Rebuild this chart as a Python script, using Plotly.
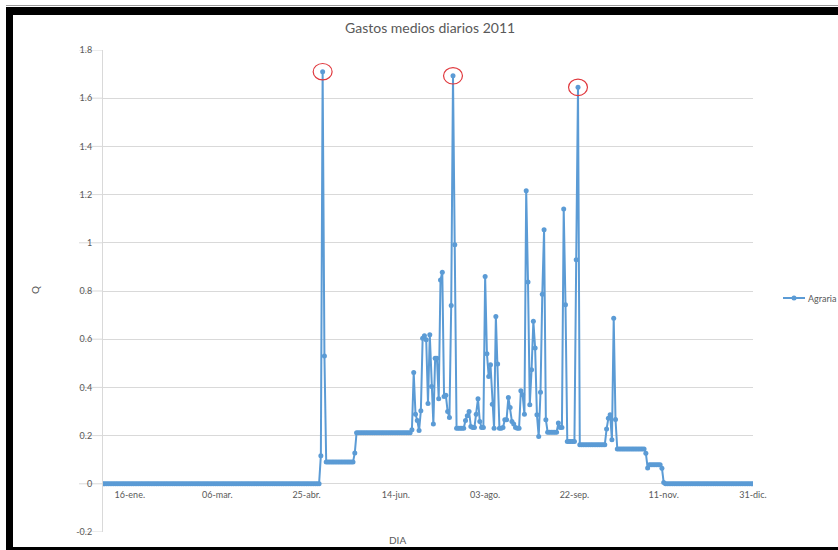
import pandas as pd
import plotly.graph_objects as go

# Daily mean flow (Q) for 2011, station "Agraria"
ene_may = [0.0] * 122                      # 1-ene .. 02-may
mayo_pico = [0.116, 1.71, 0.53]             # 03-may .. 05-may
mayo_base = [0.09] * 16 + [0.128]           # 06-may .. 22-may
jun_base = [0.212] * 31                     # 23-may .. 22-jun
jun_jul = [0.224, 0.462, 0.289, 0.263, 0.221, 0.303, 0.604, 0.614, 0.598,
           0.333, 0.618, 0.404, 0.248, 0.521, 0.521, 0.353, 0.846, 0.878,
           0.362, 0.367, 0.30, 0.275, 0.74, 1.693, 0.992]
jul_ago = [0.231, 0.231, 0.231, 0.231, 0.231, 0.263, 0.282, 0.30, 0.238,
           0.234, 0.234, 0.289, 0.353, 0.259, 0.234, 0.234, 0.86, 0.54,
           0.445, 0.494, 0.33, 0.231, 0.694, 0.497, 0.231, 0.231, 0.234,
           0.266, 0.266, 0.358, 0.317, 0.259, 0.248, 0.234, 0.231, 0.231,
           0.386, 0.369, 0.289, 1.216, 0.837, 0.328, 0.473, 0.674, 0.563,
           0.286, 0.196, 0.38, 0.787, 1.054, 0.266]
sep = [0.214] * 6 + [0.252, 0.234, 0.234, 1.14, 0.743] + [0.176] * 5 + [0.93, 1.645]
oct_base = [0.162] * 15
oct_pico = [0.227, 0.272, 0.286, 0.183, 0.687, 0.267]
oct_nov = [0.144] * 16 + [0.127, 0.066] + [0.079] * 7 + [0.065, 0.005]
nov_dic = [0.0] * 50

q = (ene_may + mayo_pico + mayo_base + jun_base + jun_jul + jul_ago + sep
     + oct_base + oct_pico + oct_nov + nov_dic)
dias = pd.date_range("2011-01-01", periods=len(q), freq="D")

tick_fechas = ["2011-01-16", "2011-03-06", "2011-04-25", "2011-06-14",
               "2011-08-03", "2011-09-22", "2011-11-11", "2011-12-31"]
tick_textos = ["16-ene.", "06-mar.", "25-abr.", "14-jun.",
               "03-ago.", "22-sep.", "11-nov.", "31-dic."]
y_ticks = [-0.2, 0, 0.2, 0.4, 0.6, 0.8, 1, 1.2, 1.4, 1.6, 1.8]
y_textos = ["-0.2", "0", "0.2", "0.4", "0.6", "0.8", "1", "1.2", "1.4", "1.6", "1.8"]

AZUL = "#5B9BD5"
GRIS = "#595959"
REJILLA = "#D9D9D9"
FUENTE = "Lato"

W, H = 838, 550
L, R, T, B = 103, 85, 50, 18
PW, PH = W - L - R, H - T - B


def px_x(px):
    return (px - L) / PW


def px_y(py):
    return (H - B - py) / PH


fig = go.Figure()
fig.add_trace(go.Scatter(
    x=dias, y=q, mode="lines+markers", name="Agraria",
    line=dict(color=AZUL, width=2),
    marker=dict(color=AZUL, size=5),
    showlegend=False,
))

shapes = []

# gridline stubs running under the y tick labels
for v in y_ticks:
    shapes.append(dict(type="line", xref="paper", yref="y", x0=px_x(79), x1=0,
                       y0=v, y1=v, line=dict(color=REJILLA, width=1), layer="below"))

# red rings around the three largest peaks
serie = pd.Series(q, index=dias)
for fecha, valor in serie[serie > 1.6].items():
    shapes.append(dict(type="circle", xref="x", yref="y",
                       x0=fecha - pd.Timedelta(hours=5.3 * 24),
                       x1=fecha + pd.Timedelta(hours=5.3 * 24),
                       y0=valor - 0.034, y1=valor + 0.034,
                       line=dict(color="#E0393E", width=1.2)))

# hand-drawn legend entry
ly = px_y(298)
shapes.append(dict(type="line", xref="paper", yref="paper", x0=px_x(783), x1=px_x(805),
                   y0=ly, y1=ly, line=dict(color=AZUL, width=2)))
shapes.append(dict(type="circle", xref="paper", yref="paper",
                   x0=px_x(791.5), x1=px_x(796.5), y0=px_y(300.5), y1=px_y(295.5),
                   fillcolor=AZUL, line=dict(color=AZUL, width=0)))

# black frame of the sheet
negro = dict(color="black", width=0)
shapes.append(dict(type="rect", xref="paper", yref="paper", x0=px_x(6), x1=px_x(840),
                   y0=px_y(15), y1=px_y(7), fillcolor="black", line=negro))
shapes.append(dict(type="rect", xref="paper", yref="paper", x0=px_x(6), x1=px_x(13),
                   y0=px_y(552), y1=px_y(7), fillcolor="black", line=negro))
shapes.append(dict(type="rect", xref="paper", yref="paper", x0=px_x(6), x1=px_x(840),
                   y0=px_y(552), y1=px_y(547), fillcolor="black", line=negro))
shapes.append(dict(type="line", xref="paper", yref="paper", x0=px_x(6), x1=px_x(840),
                   y0=px_y(5.5), y1=px_y(5.5), line=dict(color="#9A9A9A", width=1)))

annotations = [
    dict(text="Gastos medios diarios 2011", xref="paper", yref="paper",
         x=px_x(430), y=px_y(28), xanchor="center", yanchor="middle", showarrow=False,
         font=dict(family=FUENTE, size=14, color=GRIS)),
    dict(text="Q", xref="paper", yref="paper", x=px_x(35), y=px_y(290),
         xanchor="center", yanchor="middle",
         showarrow=False, textangle=-90, font=dict(family=FUENTE, size=10, color=GRIS)),
    dict(text="DIA", xref="paper", yref="paper", x=px_x(397), y=px_y(540),
         xanchor="center", yanchor="middle",
         showarrow=False, font=dict(family=FUENTE, size=10, color=GRIS)),
    dict(text="Agraria", xref="paper", yref="paper", x=px_x(806), y=ly,
         xanchor="left", yanchor="middle", showarrow=False,
         font=dict(family=FUENTE, size=9, color=GRIS)),
]

fig.update_layout(
    width=W, height=H,
    margin=dict(l=L, r=R, t=T, b=B, pad=0),
    paper_bgcolor="white", plot_bgcolor="white",
    font=dict(family=FUENTE, size=9, color=GRIS),
    shapes=shapes, annotations=annotations,
    showlegend=False,
    xaxis=dict(
        type="date", range=["2011-01-01", "2011-12-31"],
        tickvals=tick_fechas, ticktext=tick_textos,
        anchor="free", position=0.1,
        showgrid=False, zeroline=False, showline=False, ticks="",
        ticklabelstandoff=4, automargin=False,
        tickfont=dict(family=FUENTE, size=9, color=GRIS),
    ),
    yaxis=dict(
        range=[-0.2, 1.8], tickvals=y_ticks, ticktext=y_textos,
        showgrid=True, gridcolor=REJILLA, gridwidth=1,
        zeroline=False, showline=True, linecolor=REJILLA, linewidth=1,
        ticks="", ticklabelstandoff=8, automargin=False,
        tickfont=dict(family=FUENTE, size=9, color=GRIS),
    ),
)

fig.write_html("out.html")
